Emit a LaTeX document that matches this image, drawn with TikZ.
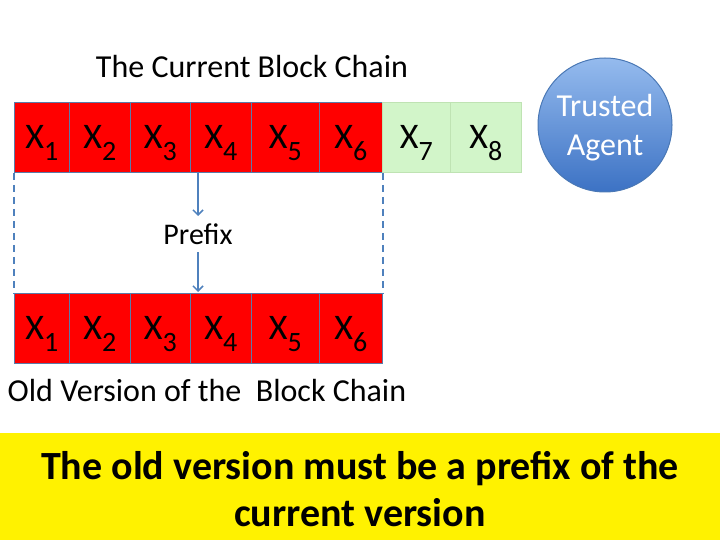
\documentclass[tikz,border=0pt]{standalone}
\usepackage{fontspec}
\setmainfont{Carlito}
\usetikzlibrary{arrows.meta}
\definecolor{cellred}{HTML}{FF0000}
\definecolor{cellline}{HTML}{5B7BA8}
\definecolor{cellgreen}{HTML}{D2F5C9}
\definecolor{greenline}{HTML}{BFE3B3}
\definecolor{linkblue}{HTML}{4F81BD}
\definecolor{balltop}{HTML}{95BBEE}
\definecolor{ballbot}{HTML}{3C72C4}
\definecolor{balledge}{HTML}{4A78B5}
\newcommand{\cellx}[1]{\fontsize{36}{36}\selectfont X\smash{\raisebox{-12pt}{\fontsize{28}{28}\selectfont #1}}}
\tikzset{
  redcell/.style={draw=cellline, line width=0.8pt, fill=cellred, inner sep=0pt, minimum height=70pt, anchor=north west},
  greencell/.style={draw=greenline, line width=0.8pt, fill=cellgreen, inner sep=0pt, minimum height=70pt, anchor=north west},
  dashline/.style={draw=linkblue, line width=1.8pt, dash pattern=on 7pt off 5pt},
  arrowline/.style={draw=linkblue, line width=1.5pt, -{Straight Barb[length=5pt,width=10pt]}},
  plaintext/.style={font=\fontsize{32}{36}\selectfont, inner sep=0pt},
}
\begin{document}
\begin{tikzpicture}[x=1pt,y=-1pt]
\useasboundingbox (0,0) rectangle (720,540);
% top row
\node[redcell, minimum width=55pt] (a1) at (14,102) {\cellx{1}};
\node[redcell, minimum width=61pt] (a2) at (69,102) {\cellx{2}};
\node[redcell, minimum width=60pt] (a3) at (130,102) {\cellx{3}};
\node[redcell, minimum width=61pt] (a4) at (190,102) {\cellx{4}};
\node[redcell, minimum width=68pt] (a5) at (251,102) {\cellx{5}};
\node[redcell, minimum width=63pt] (a6) at (319,102) {\cellx{6}};
\node[greencell, minimum width=68pt] (a7) at (382,102) {\cellx{7}};
\node[greencell, minimum width=71pt] (a8) at (450,102) {\cellx{8}};
% bottom row
\node[redcell, minimum width=55pt] (b1) at (14,293) {\cellx{1}};
\node[redcell, minimum width=61pt] (b2) at (69,293) {\cellx{2}};
\node[redcell, minimum width=60pt] (b3) at (130,293) {\cellx{3}};
\node[redcell, minimum width=61pt] (b4) at (190,293) {\cellx{4}};
\node[redcell, minimum width=68pt] (b5) at (251,293) {\cellx{5}};
\node[redcell, minimum width=63pt] (b6) at (319,293) {\cellx{6}};
% labels
\node[plaintext] (cur) at (252,67) {The Current Block Chain};
\node[plaintext] (old) at (207,391) {Old Version of the \ Block Chain};
\node[plaintext, font=\fontsize{30}{34}\selectfont] (pre) at (198,234) {Prefix};
% dashed sides
\draw[dashline] (a1.south west) -- (b1.north west);
\draw[dashline] (a6.south east) -- (b6.north east);
% arrows
\coordinate (t1) at (198,172);
\coordinate (t2) at (198,216);
\coordinate (t3) at (198,252);
\coordinate (t4) at (198,292);
\draw[arrowline] (t1) -- (t2);
\draw[arrowline] (t3) -- (t4);
% trusted agent
\node[circle, minimum size=134pt, inner sep=0pt, draw=balledge, line width=1pt, top color=balltop, bottom color=ballbot, text=white, align=center, font=\fontsize{32}{39}\selectfont] (ta) at (605,125) {\rule{0pt}{33.3pt}Trusted\\Agent\strut};
% yellow banner
\fill[yellow] (0,433) rectangle (720,540);
\node[align=center, font=\fontsize{40}{47}\selectfont\bfseries, inner sep=0pt] (msg) at (360,489) {The old version must be a prefix of the\\current version};
\end{tikzpicture}
\end{document}
